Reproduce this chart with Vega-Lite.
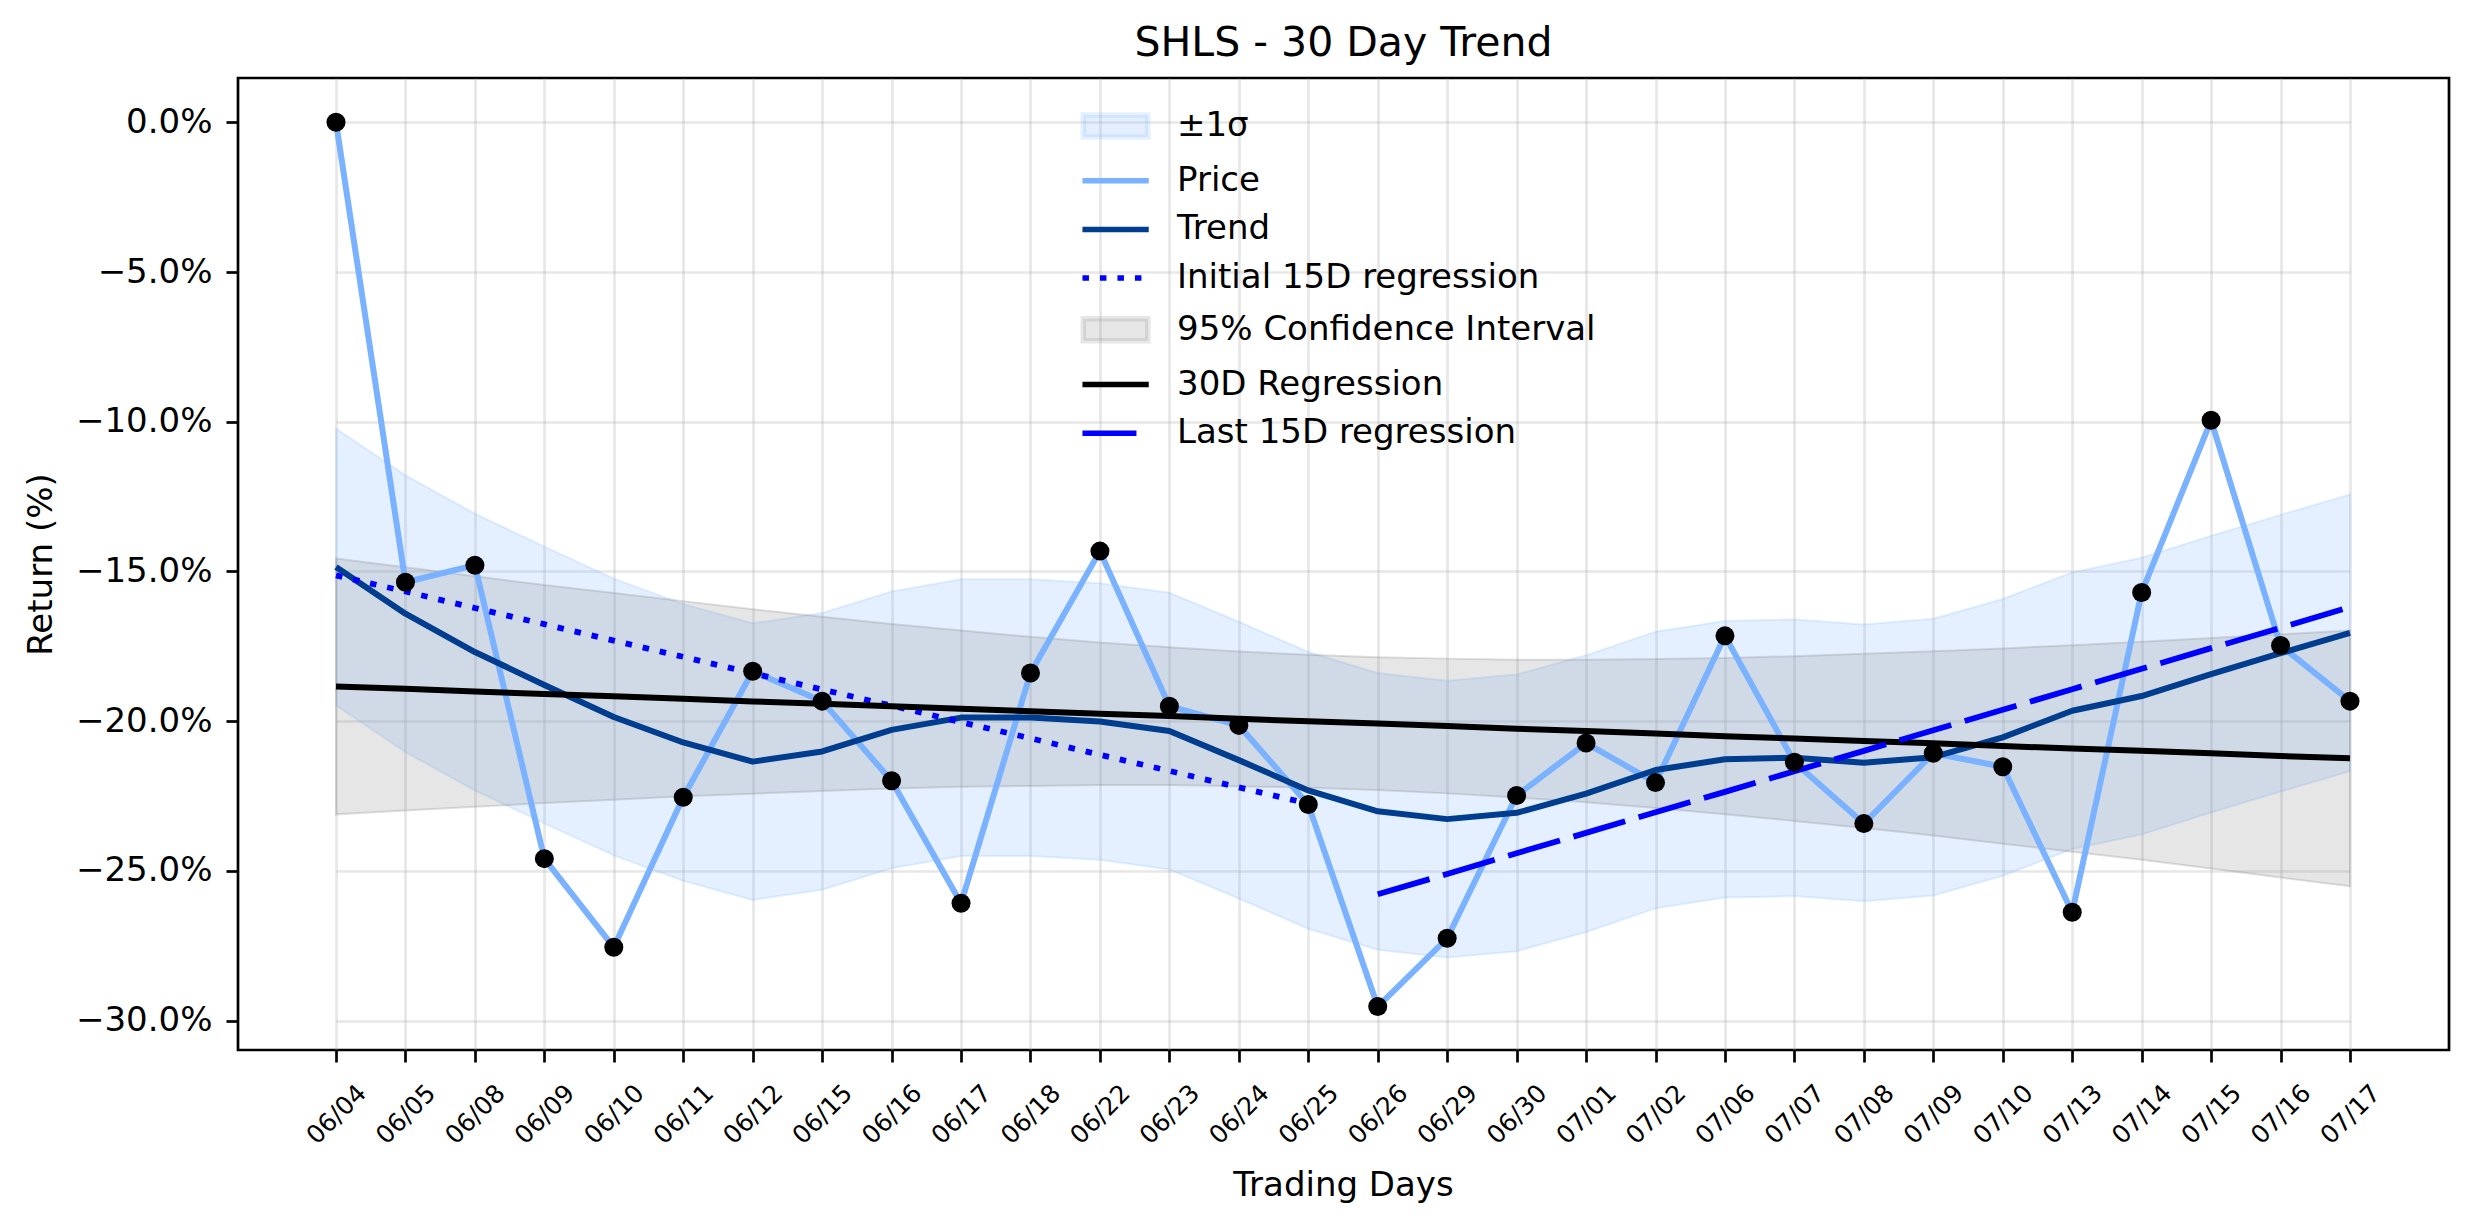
{
  "$schema": "https://vega.github.io/schema/vega-lite/v6.json",
  "width": 2211,
  "height": 972,
  "autosize": {"type": "none"},
  "padding": {"left": 238, "top": 78, "right": 25, "bottom": 174},
  "background": "white",
  "title": {"text": "SHLS - 30 Day Trend", "fontSize": 41, "font": "DejaVu Sans", "fontWeight": "normal", "color": "black", "anchor": "middle", "baseline": "bottom", "offset": 10, "dy": 38},
  "data": {"values": [
    {"d": "06/04", "price": 0.00, "trend": -14.85, "sig_hi": -10.23, "sig_lo": -19.47, "ci_hi": -14.57, "ci_lo": -23.11, "reg": -18.84, "init": -15.13, "last": null},
    {"d": "06/05", "price": -15.36, "trend": -16.41, "sig_hi": -11.79, "sig_lo": -21.03, "ci_hi": -14.86, "ci_lo": -22.98, "reg": -18.92, "init": -15.67, "last": null},
    {"d": "06/08", "price": -14.79, "trend": -17.69, "sig_hi": -13.07, "sig_lo": -22.31, "ci_hi": -15.16, "ci_lo": -22.86, "reg": -19.01, "init": -16.22, "last": null},
    {"d": "06/09", "price": -24.59, "trend": -18.79, "sig_hi": -14.17, "sig_lo": -23.41, "ci_hi": -15.45, "ci_lo": -22.73, "reg": -19.09, "init": -16.76, "last": null},
    {"d": "06/10", "price": -27.55, "trend": -19.86, "sig_hi": -15.24, "sig_lo": -24.48, "ci_hi": -15.72, "ci_lo": -22.62, "reg": -19.17, "init": -17.31, "last": null},
    {"d": "06/11", "price": -22.54, "trend": -20.71, "sig_hi": -16.09, "sig_lo": -25.33, "ci_hi": -15.99, "ci_lo": -22.51, "reg": -19.25, "init": -17.85, "last": null},
    {"d": "06/12", "price": -18.33, "trend": -21.35, "sig_hi": -16.73, "sig_lo": -25.97, "ci_hi": -16.26, "ci_lo": -22.42, "reg": -19.34, "init": -18.40, "last": null},
    {"d": "06/15", "price": -19.33, "trend": -21.01, "sig_hi": -16.39, "sig_lo": -25.63, "ci_hi": -16.51, "ci_lo": -22.33, "reg": -19.42, "init": -18.94, "last": null},
    {"d": "06/16", "price": -21.99, "trend": -20.29, "sig_hi": -15.67, "sig_lo": -24.91, "ci_hi": -16.75, "ci_lo": -22.25, "reg": -19.50, "init": -19.48, "last": null},
    {"d": "06/17", "price": -26.08, "trend": -19.88, "sig_hi": -15.26, "sig_lo": -24.50, "ci_hi": -16.97, "ci_lo": -22.19, "reg": -19.58, "init": -20.03, "last": null},
    {"d": "06/18", "price": -18.39, "trend": -19.88, "sig_hi": -15.26, "sig_lo": -24.50, "ci_hi": -17.18, "ci_lo": -22.16, "reg": -19.67, "init": -20.57, "last": null},
    {"d": "06/22", "price": -14.32, "trend": -20.01, "sig_hi": -15.39, "sig_lo": -24.63, "ci_hi": -17.37, "ci_lo": -22.13, "reg": -19.75, "init": -21.12, "last": null},
    {"d": "06/23", "price": -19.50, "trend": -20.33, "sig_hi": -15.71, "sig_lo": -24.95, "ci_hi": -17.53, "ci_lo": -22.13, "reg": -19.83, "init": -21.66, "last": null},
    {"d": "06/24", "price": -20.14, "trend": -21.30, "sig_hi": -16.68, "sig_lo": -25.92, "ci_hi": -17.67, "ci_lo": -22.17, "reg": -19.92, "init": -22.21, "last": null},
    {"d": "06/25", "price": -22.78, "trend": -22.31, "sig_hi": -17.69, "sig_lo": -26.93, "ci_hi": -17.78, "ci_lo": -22.22, "reg": -20.00, "init": -22.75, "last": null},
    {"d": "06/26", "price": -29.53, "trend": -23.01, "sig_hi": -18.39, "sig_lo": -27.63, "ci_hi": -17.86, "ci_lo": -22.30, "reg": -20.08, "init": null, "last": -25.78},
    {"d": "06/29", "price": -27.25, "trend": -23.27, "sig_hi": -18.65, "sig_lo": -27.89, "ci_hi": -17.91, "ci_lo": -22.41, "reg": -20.16, "init": null, "last": -25.10},
    {"d": "06/30", "price": -22.48, "trend": -23.06, "sig_hi": -18.44, "sig_lo": -27.68, "ci_hi": -17.95, "ci_lo": -22.55, "reg": -20.25, "init": null, "last": -24.41},
    {"d": "07/01", "price": -20.73, "trend": -22.42, "sig_hi": -17.80, "sig_lo": -27.04, "ci_hi": -17.95, "ci_lo": -22.71, "reg": -20.33, "init": null, "last": -23.73},
    {"d": "07/02", "price": -22.05, "trend": -21.63, "sig_hi": -17.01, "sig_lo": -26.25, "ci_hi": -17.92, "ci_lo": -22.90, "reg": -20.41, "init": null, "last": -23.04},
    {"d": "07/06", "price": -17.15, "trend": -21.27, "sig_hi": -16.65, "sig_lo": -25.89, "ci_hi": -17.89, "ci_lo": -23.11, "reg": -20.50, "init": null, "last": -22.36},
    {"d": "07/07", "price": -21.37, "trend": -21.22, "sig_hi": -16.60, "sig_lo": -25.84, "ci_hi": -17.83, "ci_lo": -23.33, "reg": -20.58, "init": null, "last": -21.67},
    {"d": "07/08", "price": -23.42, "trend": -21.39, "sig_hi": -16.77, "sig_lo": -26.01, "ci_hi": -17.75, "ci_lo": -23.57, "reg": -20.66, "init": null, "last": -20.99},
    {"d": "07/09", "price": -21.07, "trend": -21.20, "sig_hi": -16.58, "sig_lo": -25.82, "ci_hi": -17.66, "ci_lo": -23.82, "reg": -20.74, "init": null, "last": -20.30},
    {"d": "07/10", "price": -21.52, "trend": -20.54, "sig_hi": -15.92, "sig_lo": -25.16, "ci_hi": -17.57, "ci_lo": -24.09, "reg": -20.83, "init": null, "last": -19.62},
    {"d": "07/13", "price": -26.38, "trend": -19.65, "sig_hi": -15.03, "sig_lo": -24.27, "ci_hi": -17.46, "ci_lo": -24.36, "reg": -20.91, "init": null, "last": -18.93},
    {"d": "07/14", "price": -15.70, "trend": -19.16, "sig_hi": -14.54, "sig_lo": -23.78, "ci_hi": -17.35, "ci_lo": -24.63, "reg": -20.99, "init": null, "last": -18.25},
    {"d": "07/15", "price": -9.95, "trend": -18.43, "sig_hi": -13.81, "sig_lo": -23.05, "ci_hi": -17.22, "ci_lo": -24.92, "reg": -21.07, "init": null, "last": -17.56},
    {"d": "07/16", "price": -17.47, "trend": -17.73, "sig_hi": -13.11, "sig_lo": -22.35, "ci_hi": -17.10, "ci_lo": -25.22, "reg": -21.16, "init": null, "last": -16.88},
    {"d": "07/17", "price": -19.33, "trend": -17.05, "sig_hi": -12.43, "sig_lo": -21.67, "ci_hi": -16.97, "ci_lo": -25.51, "reg": -21.24, "init": null, "last": -16.19}
  ]},
  "encoding": {
    "x": {
      "field": "d", "type": "ordinal", "sort": null,
      "scale": {"type": "point", "padding": 0, "range": [98, 2112]},
      "axis": {"title": "Trading Days", "domain": false, "labelAngle": -45, "labelAlign": "center", "labelBaseline": "middle", "labelPadding": 52, "labelFontSize": 25, "labelOverlap": false, "labelBound": false, "labelFlush": false, "titlePadding": 20, "grid": true}
    }
  },
  "layer": [
    {
      "mark": {"type": "area", "stroke": "#7ab2ff", "strokeOpacity": 0.2, "strokeWidth": 2},
      "encoding": {
        "y": {"field": "sig_hi", "type": "quantitative", "title": "Return (%)", "scale": {"domain": [-30.98, 1.48], "nice": false, "zero": false}, "axis": {"values": [-30, -25, -20, -15, -10, -5, 0], "labelExpr": "replace(format(datum.value, '.1f'), '-', '−') + '%'"}},
        "y2": {"field": "sig_lo"},
        "color": {
          "datum": "±1σ", "type": "nominal",
          "scale": {"domain": ["±1σ", "Price", "Trend", "Initial 15D regression", "95% Confidence Interval", "30D Regression", "Last 15D regression"], "range": ["rgba(122,178,255,0.2)", "#7ab2ff", "#003d8f", "#0000ff", "rgba(128,128,128,0.2)", "#000000", "#0000ff"]},
          "legend": {
            "title": null, "orient": "none", "legendX": 857.6, "legendY": 28, "direction": "vertical", "columns": 1, "padding": 0,
            "labelFontSize": 34, "labelFont": "DejaVu Sans", "labelColor": "black", "labelOffset": 41.4, "rowPadding": 11.7, "labelLimit": 1000,
            "symbolType": {"expr": "(datum.value === '±1σ' || datum.value === '95% Confidence Interval') ? 'M-1.9,-0.65L1.9,-0.65L1.9,0.65L-1.9,0.65Z' : 'M-1.95,0L1.95,0'"},
            "symbolSize": 1156,
            "symbolFillColor": {"expr": "(datum.value === '±1σ' || datum.value === '95% Confidence Interval') ? scale('color', datum.value) : 'transparent'"},
            "symbolStrokeColor": {"expr": "(datum.value === '±1σ' || datum.value === '95% Confidence Interval') ? 'transparent' : scale('color', datum.value)"},
            "symbolStrokeWidth": 5.5,
            "symbolDash": {"expr": "datum.value === 'Initial 15D regression' ? [6.5, 11] : (datum.value === 'Last 15D regression' ? [54, 40] : [])"},
            "symbolOpacity": 1
          }
        }
      }
    },
    {
      "mark": {"type": "area", "stroke": "#808080", "strokeOpacity": 0.25, "strokeWidth": 2},
      "encoding": {
        "y": {"field": "ci_hi", "type": "quantitative", "title": "Return (%)", "scale": {"domain": [-30.98, 1.48], "nice": false, "zero": false}},
        "y2": {"field": "ci_lo"},
        "color": {"datum": "95% Confidence Interval", "type": "nominal"}
      }
    },
    {
      "mark": {"type": "rule", "color": "#808080", "strokeWidth": 3, "strokeDash": [12, 6]},
      "encoding": {"y": {"datum": 0, "type": "quantitative"}}
    },
    {
      "mark": {"type": "line", "strokeWidth": 6, "strokeJoin": "round"},
      "encoding": {
        "y": {"field": "price", "type": "quantitative", "title": "Return (%)", "scale": {"domain": [-30.98, 1.48], "nice": false, "zero": false}},
        "color": {"datum": "Price", "type": "nominal"}
      }
    },
    {
      "mark": {"type": "line", "strokeWidth": 6, "strokeJoin": "round"},
      "encoding": {
        "y": {"field": "trend", "type": "quantitative", "title": "Return (%)", "scale": {"domain": [-30.98, 1.48], "nice": false, "zero": false}},
        "color": {"datum": "Trend", "type": "nominal"}
      }
    },
    {
      "mark": {"type": "line", "strokeWidth": 5.8, "strokeDash": [6.5, 11]},
      "encoding": {
        "y": {"field": "init", "type": "quantitative", "title": "Return (%)", "scale": {"domain": [-30.98, 1.48], "nice": false, "zero": false}},
        "color": {"datum": "Initial 15D regression", "type": "nominal"}
      }
    },
    {
      "mark": {"type": "line", "strokeWidth": 6},
      "encoding": {
        "y": {"field": "reg", "type": "quantitative", "title": "Return (%)", "scale": {"domain": [-30.98, 1.48], "nice": false, "zero": false}},
        "color": {"datum": "30D Regression", "type": "nominal"}
      }
    },
    {
      "mark": {"type": "line", "strokeWidth": 5.8, "strokeDash": [54, 14]},
      "encoding": {
        "y": {"field": "last", "type": "quantitative", "title": "Return (%)", "scale": {"domain": [-30.98, 1.48], "nice": false, "zero": false}},
        "color": {"datum": "Last 15D regression", "type": "nominal"}
      }
    },
    {
      "mark": {"type": "point", "filled": true, "color": "black", "size": 361, "opacity": 1},
      "encoding": {
        "y": {"field": "price", "type": "quantitative", "title": "Return (%)", "scale": {"domain": [-30.98, 1.48], "nice": false, "zero": false}}
      }
    }
  ],
  "config": {
    "font": "DejaVu Sans",
    "view": {"stroke": "black", "strokeWidth": 2.7},
    "axis": {
      "labelFont": "DejaVu Sans", "titleFont": "DejaVu Sans", "labelColor": "black", "titleColor": "black",
      "titleFontWeight": "normal", "titleFontSize": 34, "tickColor": "black", "tickWidth": 2.7, "tickSize": 12,
      "domain": false, "grid": true, "gridColor": "#b0b0b0", "gridOpacity": 0.3, "gridWidth": 2.7
    },
    "axisY": {"labelFontSize": 34, "labelPadding": 14, "titlePadding": 17}
  }
}
